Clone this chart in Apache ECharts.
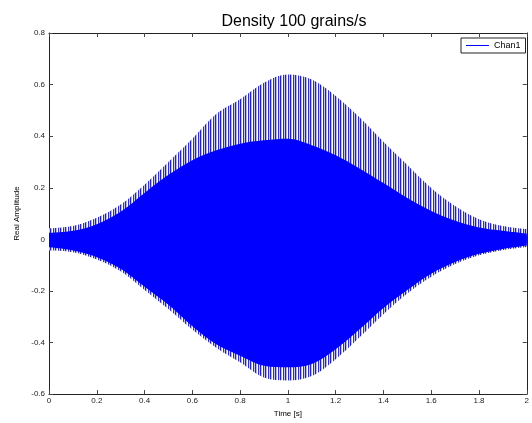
<!DOCTYPE html>
<html>
<head>
<meta charset="utf-8">
<script src="https://cdn.jsdelivr.net/npm/echarts@6/dist/echarts.min.js"></script>
<style>html,body{margin:0;padding:0;background:#fff;}#chart{width:532px;height:423px;}</style>
</head>
<body>
<div id="chart"></div>
<script>
var times = [0,0.1,0.2,0.3,0.4,0.5,0.6,0.7,0.8,0.9,1.0,1.1,1.2,1.3,1.4,1.5,1.6,1.7,1.8,1.9,2.0];
// Upper tips of the grain spikes
var upperPeak = [0.043,0.052,0.084,0.135,0.212,0.300,0.390,0.486,0.543,0.607,0.639,0.620,0.556,0.473,0.378,0.288,0.199,0.129,0.078,0.052,0.040];
// Upper edge of the dense (solid) region
var upperDense = [0.025,0.033,0.059,0.107,0.180,0.250,0.307,0.345,0.371,0.384,0.390,0.365,0.326,0.275,0.218,0.160,0.110,0.072,0.046,0.033,0.022];
// Lower edge of the dense region
var lowerDense = [-0.031,-0.043,-0.069,-0.114,-0.184,-0.254,-0.337,-0.407,-0.451,-0.490,-0.496,-0.483,-0.426,-0.349,-0.266,-0.196,-0.133,-0.088,-0.056,-0.037,-0.024];
// Lower tips of the grain spikes
var lowerPeak = [-0.043,-0.050,-0.078,-0.124,-0.196,-0.270,-0.350,-0.420,-0.477,-0.536,-0.547,-0.530,-0.465,-0.380,-0.290,-0.210,-0.145,-0.096,-0.062,-0.042,-0.030];
// Tick labels
var xTicks = [0,0.2,0.4,0.6,0.8,1,1.2,1.4,1.6,1.8,2];
var yTicks = [-0.6,-0.4,-0.2,0,0.2,0.4,0.6,0.8];

function pairs(vals){ return times.map(function(t,i){ return [t, vals[i]]; }); }

// vertical hatch pattern mimicking the individual grain spikes
var pat = document.createElement('canvas');
pat.width = 5; pat.height = 4;
var pc = pat.getContext('2d');
var cols = ['#2424b0','#b4b4e2','#fafafe','#3030bc','#c4c4e8'];
for (var i = 0; i < 5; i++) { pc.fillStyle = cols[i]; pc.fillRect(i,0,1,4); }

var chart = echarts.init(document.getElementById('chart'), null, {renderer:'canvas'});
var font = 'Liberation Sans, Arial, Helvetica, sans-serif';
function axisCommon(){
  return {
    axisLine:{show:true, onZero:false, lineStyle:{color:'#222', width:1}},
    axisTick:{show:true, inside:true, length:4, lineStyle:{color:'#444'}},
    splitLine:{show:false}
  };
}
function areaSeries(name, vals, color, z, origin){
  return {
    name:name, type:'line', data:pairs(vals), symbol:'none', smooth:0.35,
    lineStyle:{width:0, opacity:0}, areaStyle:{color:color, opacity:1, origin:origin},
    z:z, silent:true, animation:false
  };
}
chart.setOption({
  backgroundColor:'#fff',
  animation:false,
  title:{text:'Density 100 grains/s', left:289, top:9, textAlign:'center',
    textStyle:{fontFamily:font, fontSize:16, fontWeight:'normal', color:'#000'}},
  legend:{
    data:[{name:'Chan1', icon:'rect', itemStyle:{color:'#0000ff'}}], left:461, top:38, orient:'vertical',
    padding:[3,5,3,5], borderColor:'#222', borderWidth:1, backgroundColor:'#fff',
    itemWidth:23, itemHeight:1, itemGap:4,
    textStyle:{fontFamily:font, fontSize:9, color:'#000'}
  },
  grid:{left:49, right:3, top:33, bottom:24, containLabel:false},
  xAxis:[
    Object.assign({type:'value', min:0, max:2, interval:0.2, position:'bottom',
      name:'Time [s]', nameLocation:'middle', nameGap:14,
      nameTextStyle:{fontFamily:font, fontSize:8, color:'#000'},
      axisLabel:{fontFamily:font, fontSize:8, color:'#222', margin:3,
        formatter:function(v){ var r = Math.round(v*10)/10; return xTicks.indexOf(r) >= 0 ? String(r) : ''; }}}, axisCommon()),
    Object.assign({type:'value', min:0, max:2, interval:0.2, position:'top',
      axisLabel:{show:false}}, axisCommon())
  ],
  yAxis:[
    Object.assign({type:'value', min:-0.6, max:0.8, interval:0.2, position:'left',
      name:'Real Amplitude', nameLocation:'middle', nameGap:26,
      nameTextStyle:{fontFamily:font, fontSize:8, color:'#000'},
      axisLabel:{fontFamily:font, fontSize:8, color:'#222', margin:4,
        formatter:function(v){ var r = Math.round(v*10)/10; return yTicks.indexOf(r) >= 0 ? String(r) : ''; }}}, axisCommon()),
    Object.assign({type:'value', min:-0.6, max:0.8, interval:0.2, position:'right',
      axisLabel:{show:false}}, axisCommon())
  ],
  series:[
    areaSeries('spikesUp', upperPeak, {image:pat, repeat:'repeat'}, 1, 0),
    areaSeries('spikesDown', lowerPeak, {image:pat, repeat:'repeat'}, 1, 0),
    areaSeries('denseUp', upperDense, '#0000ff', 2, -0.015),
    areaSeries('denseDown', lowerDense, '#0000ff', 2, 0.015),
    {name:'Chan1', type:'line', data:[], symbol:'none', lineStyle:{color:'#0000ff', width:1}, itemStyle:{color:'#0000ff'}}
  ]
});
</script>
</body>
</html>
